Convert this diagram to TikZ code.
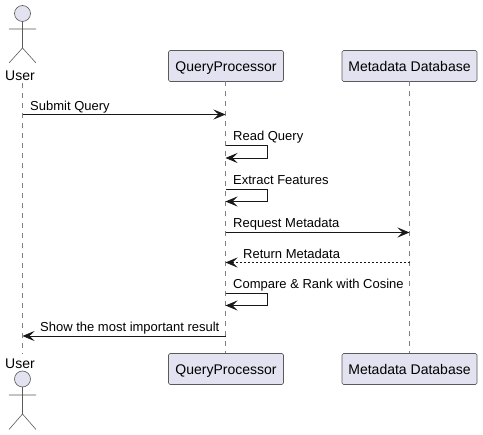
\documentclass[tikz,border=0pt]{standalone}
\usepackage{fontspec}
\setmainfont{Liberation Sans}
\usetikzlibrary{arrows.meta}
\definecolor{partfill}{HTML}{E2E2F0}
\definecolor{partline}{HTML}{5A5A5A}
\definecolor{lifeln}{HTML}{808080}
\definecolor{msgline}{HTML}{181818}
\tikzset{
  part/.style={draw=partline,fill=partfill,line width=0.6pt,rounded corners=1.5pt,minimum height=31pt,inner sep=0pt,font=\fontsize{14}{16}\selectfont,text=black},
  plab/.style={font=\fontsize{14}{16}\selectfont,text=black,inner sep=0pt,anchor=base},
  actorname/.style={font=\fontsize{14}{16}\selectfont,text=black,inner sep=0pt},
  actorshape/.style={draw=partline,line width=0.6pt},
  lifeline/.style={draw=lifeln,line width=0.6pt,dash pattern=on 5pt off 5pt},
  tiptype/.style={-{Stealth[length=12pt,width=10pt,inset=5pt]}},
  msg/.style={draw=msgline,line width=0.8pt,tiptype},
  msgret/.style={draw=msgline,line width=0.8pt,tiptype,dash pattern=on 2pt off 2pt},
  lab/.style={font=\fontsize{13}{15}\selectfont,text=black,inner sep=0pt,anchor=base west}
}
\begin{document}
\begin{tikzpicture}[x=1pt,y=-1pt]
\useasboundingbox (0,0) rectangle (483,435);
\fill[white] (0,0) rectangle (483,435);
% participants
\node[part,minimum width=115pt] (qt) at (226,66) {};
\node[part,minimum width=135pt] (mt) at (409.5,66) {};
\node[part,minimum width=115pt] (qb) at (226,369) {};
\node[part,minimum width=135pt] (mb) at (409.5,369) {};
\node[plab] (qtl) at (226,72) {QueryProcessor};
\node[plab] (mtl) at (409.5,72) {Metadata Database};
\node[plab] (qbl) at (226,375) {QueryProcessor};
\node[plab] (mbl) at (409.5,375) {Metadata Database};
\node[actorname] (ut) at (20,76) {User};
\node[actorname] (ub) at (20,364) {User};
% lifelines
\coordinate (utl) at (22.5,83);
\coordinate (ubl) at (22.5,354);
\coordinate (q1) at (225.5,81.5);
\coordinate (q2) at (225.5,353.5);
\coordinate (m1) at (409.5,81.5);
\coordinate (m2) at (409.5,353.5);
\draw[lifeline] (utl) -- (ubl);
\draw[lifeline] (q1) -- (q2);
\draw[lifeline] (m1) -- (m2);
% actors
\draw[actorshape,fill=partfill] (22.5,13.5) circle (8);
\draw[actorshape] (22.5,21.5) -- (22.5,48) (9,29) -- (36,29) (9,63) -- (22.5,48) -- (36,63);
\draw[actorshape,fill=partfill] (22.5,379) circle (8);
\draw[actorshape] (22.5,387) -- (22.5,414) (9,395) -- (36,395) (9,429.5) -- (22.5,414) -- (36,429.5);
% message anchors
\coordinate (a1) at (22.5,114.5);
\coordinate (b1) at (225.5,114.5);
\coordinate (a2) at (225.5,145.5);
\coordinate (b2) at (225.5,158);
\coordinate (a3) at (225.5,189);
\coordinate (b3) at (225.5,201.5);
\coordinate (a4) at (225.5,232.5);
\coordinate (b4) at (409.5,232.5);
\coordinate (a5) at (409.5,262.5);
\coordinate (b5) at (225.5,262.5);
\coordinate (a6) at (225.5,293);
\coordinate (b6) at (225.5,305.5);
\coordinate (a7) at (225.5,336);
\coordinate (b7) at (22.5,336);
\draw[msg] (a1) -- (b1);
\draw[msg] (a2) -- ++(42,0) |- (b2);
\draw[msg] (a3) -- ++(42,0) |- (b3);
\draw[msg] (a4) -- (b4);
\draw[msgret] (a5) -- (b5);
\draw[msg] (a6) -- ++(42,0) |- (b6);
\draw[msg] (a7) -- (b7);
% labels
\node[lab] (l1) at (30,111) {Submit Query};
\node[lab] (l2) at (233,141) {Read Query};
\node[lab] (l3) at (233,185) {Extract Features};
\node[lab] (l4) at (233,228) {Request Metadata};
\node[lab] (l5) at (243,259) {Return Metadata};
\node[lab] (l6) at (233,289) {Compare \& Rank with Cosine};
\node[lab] (l7) at (40,332) {Show the most important result};
\end{tikzpicture}
\end{document}
